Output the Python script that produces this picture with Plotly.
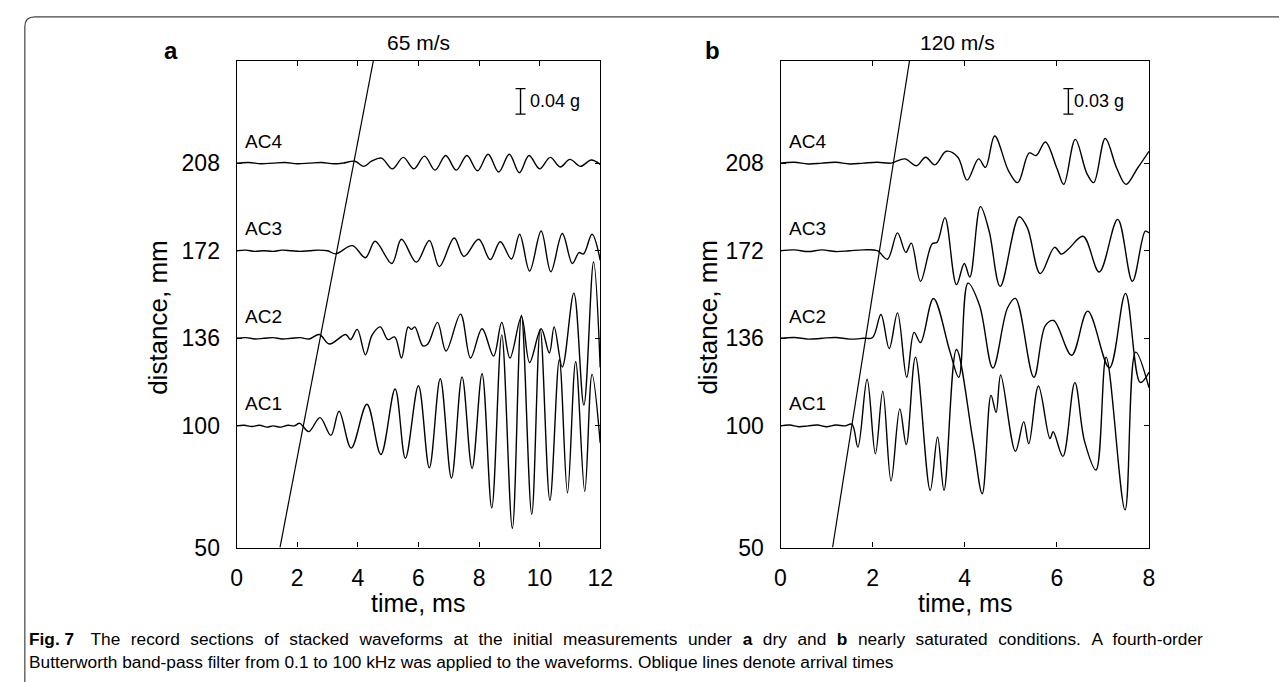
import plotly.graph_objects as go

W, H = 1287, 682

# ---------------- data ----------------
stations = ["AC1", "AC2", "AC3", "AC4"]
distances = [100, 136, 172, 208]          # mm
distance_ticks = [50, 100, 136, 172, 208]
time_ticks_a = [0, 2, 4, 6, 8, 10, 12]
time_ticks_b = [0, 2, 4, 6, 8]

# panel a (dry, 65 m/s) : time (ms) and acceleration (mg)
a_ac1_t = [0, 0.25, 0.5, 0.75, 1.0, 1.2, 1.45, 1.7, 1.9, 2.08, 2.38, 2.75, 3.11, 3.38, 3.78, 4.30, 4.76, 5.23, 5.57,
           6.00, 6.36, 6.72, 7.09, 7.44, 7.77, 8.10, 8.42, 8.75, 9.10, 9.40, 9.74, 10.02, 10.34, 10.65, 10.92,
           11.19, 11.49, 11.73, 12.0]
a_ac1_mg = [0, 1, -1, 1, -2, 0, -2, 1, 0, 4, -9, 13, -15, 23, -35, 34, -45, 58, -51,
            63, -66, 74, -82, 77, -67, 82, -129, 143, -161, 174, -139, 152, -117, 104, -105,
            101, -103, 81, -27]

a_ac2_t = [0, 0.3, 0.6, 0.9, 1.2, 1.5, 1.8, 2.1, 2.4, 2.73, 3.06, 3.60, 3.76, 3.98, 4.25, 4.47, 4.74, 4.99, 5.22,
           5.44, 5.66, 5.77, 5.88, 6.15, 6.31, 6.63, 6.91, 7.39, 7.72, 8.10, 8.48, 8.75, 9.02, 9.40, 9.67,
           10.05, 10.32, 10.48, 10.75, 11.13, 11.46, 11.78, 12.0]
a_ac2_mg = [0, 1, -1, 0, 1, -1, 0, 1, -1, 6, -9, 6, -2, 14, -26, 5, 18, -2, 2,
            -31, 18, 14, 18, -12, -9, 25, -20, 38, -31, 15, -28, 25, -31, 34, -38,
            15, -23, 18, -45, 71, -105, 120, -46]

a_ac3_t = [0, 0.3, 0.6, 0.9, 1.2, 1.5, 1.8, 2.1, 2.4, 2.7, 3.0, 3.27, 3.82, 4.25, 4.57, 5.12, 5.44, 5.93, 6.36,
           6.69, 7.18, 7.50, 7.99, 8.37, 8.70, 9.07, 9.34, 9.67, 10.05, 10.37, 10.75, 11.08, 11.30, 11.45,
           11.73, 12.0]
a_ac3_mg = [0, 1, -1, 0, -1, 1, 0, -1, 0, 1, 0, -5, 8, -11, 15, -20, 18, -18, 16,
            -25, 20, -9, 18, -14, 14, -13, 26, -32, 31, -33, 27, -20, -3, -5,
            26, -15]

a_ac4_t = [0, 0.4, 0.8, 1.2, 1.6, 2.0, 2.4, 2.8, 3.2, 3.5, 3.9, 4.2, 4.45, 4.78, 5.14, 5.5, 5.85, 6.2, 6.55,
           6.9, 7.25, 7.6, 7.95, 8.3, 8.65, 9.0, 9.33, 9.65, 10.0, 10.35, 10.68, 11.0, 11.35, 11.7, 12.0]
a_ac4_mg = [0, 1, -1, 0, 1, -1, 0, 1, -1, 0, 3, -5, 3, 8, -9, 9, -9, 11, -11,
            12, -11, 12, -12, 14, -14, 14, -15, 12, -9, 9, -6, 6, -5, 5, -2]

# panel b (nearly saturated, 120 m/s)
b_ac1_t = [0, 0.2, 0.4, 0.6, 0.8, 1.0, 1.2, 1.4, 1.55, 1.68, 1.88, 2.06, 2.22, 2.40, 2.59, 2.73, 2.93, 3.25,
           3.41, 3.55, 3.82, 4.18, 4.38, 4.57, 4.68, 4.78, 5.10, 5.28, 5.39, 5.60, 5.85, 5.92, 6.13, 6.39,
           6.60, 6.85, 7.07, 7.48, 7.71, 8.0]
b_ac1_mg = [0, 1, -1, 0, 1, -1, 1, 0, 2, -25, 55, -33, 41, -65, 20, -22, 81, -76,
            -13, -76, 90, -18, -80, 36, 16, 60, -30, 5, -21, 47, -15, -7, -36, 51,
            -18, -52, 81, -99, 87, 45]

b_ac2_t = [0, 0.3, 0.6, 0.9, 1.2, 1.5, 1.8, 2.0, 2.18, 2.36, 2.54, 2.74, 2.90, 3.04, 3.32, 3.68, 3.87, 4.07,
           4.32, 4.61, 4.93, 5.10, 5.50, 5.75, 5.93, 6.32, 6.67, 7.14, 7.49, 7.81, 8.0]
b_ac2_mg = [0, 1, -1, 0, 1, -1, 0, 1, 28, -12, 30, -46, 7, -5, 47, -16, -46, 65,
            39, -35, 36, 47, -46, 15, 21, -20, 32, -35, 53, -52, -40]

b_ac3_t = [0, 0.3, 0.6, 0.9, 1.2, 1.5, 1.8, 2.1, 2.32, 2.54, 2.72, 2.84, 3.04, 3.29, 3.40, 3.57, 3.82, 3.99,
           4.11, 4.34, 4.53, 4.77, 5.18, 5.36, 5.64, 5.95, 6.10, 6.25, 6.57, 6.92, 7.32, 7.64, 7.92, 8.0]
b_ac3_mg = [0, 1, -1, 1, -1, 0, 1, 0, -10, 21, -2, 9, -36, 8, 10, 39, -40, -15,
            -31, 52, 23, -42, 40, 27, -27, 4, -4, 2, 17, -25, 37, -36, 23, 21]

b_ac4_t = [0, 0.3, 0.6, 0.9, 1.2, 1.5, 1.8, 2.1, 2.4, 2.7, 2.95, 3.15, 3.35, 3.6, 3.85, 4.05, 4.3, 4.45, 4.65,
           4.95, 5.15, 5.4, 5.55, 5.75, 6.0, 6.15, 6.4, 6.65, 6.8, 7.05, 7.3, 7.5, 7.75, 8.0]
b_ac4_mg = [0, 1, -1, 0, 1, -1, 0, 1, 0, 5, -3, 7, -2, 14, 7, -20, 5, -5, 32,
            -9, -23, 12, 9, 25, -6, -25, 28, -12, -23, 29, -6, -25, -6, 14]

# arrival lines (time ms, distance mm)
a_arrival_t = [1.43, 4.51]
a_arrival_d = [50, 250]
b_arrival_t = [1.13, 2.80]
b_arrival_d = [50, 250]

scale_a_g = 0.04
scale_b_g = 0.03

caption_line1 = ("The record sections of stacked waveforms at the initial measurements under "
                 "<b>a</b> dry and <b>b</b> nearly saturated conditions. A fourth-order")
caption_line2 = ("Butterworth band-pass filter from 0.1 to 100 kHz was applied to the waveforms. "
                 "Oblique lines denote arrival times")

# ---------------- layout helpers ----------------
def px(x):
    return x / W

def py(y):
    return 1 - y / H

BAR_MM = 10.46   # drawn length of the scale bar in distance units
FONT = "Liberation Sans, Arial, sans-serif"

fig = go.Figure()

panels = [
    dict(xa="x", ya="y", sg=scale_a_g,
         data=[(a_ac1_t, a_ac1_mg), (a_ac2_t, a_ac2_mg), (a_ac3_t, a_ac3_mg), (a_ac4_t, a_ac4_mg)],
         arr=(a_arrival_t, a_arrival_d), bar_x=9.37, txt_x=9.60, lab_x=0.2),
    dict(xa="x2", ya="y2", sg=scale_b_g,
         data=[(b_ac1_t, b_ac1_mg), (b_ac2_t, b_ac2_mg), (b_ac3_t, b_ac3_mg), (b_ac4_t, b_ac4_mg)],
         arr=(b_arrival_t, b_arrival_d), bar_x=6.25, txt_x=6.33, lab_x=0.15),
]

for p in panels:
    k = BAR_MM / p["sg"] / 1000.0   # mm per mg
    for (t, mg), d, name in zip(p["data"], distances, stations):
        fig.add_trace(go.Scatter(
            x=t, y=[d + v * k for v in mg], mode="lines",
            line=dict(color="black", width=1.4, shape="spline", smoothing=1.0),
            xaxis=p["xa"], yaxis=p["ya"], showlegend=False, hoverinfo="skip"))
        fig.add_annotation(x=p["lab_x"], y=d, xref=p["xa"], yref=p["ya"], text=name,
                           xanchor="left", yanchor="middle", yshift=22, showarrow=False,
                           font=dict(family=FONT, size=19, color="black"))
    fig.add_trace(go.Scatter(
        x=p["arr"][0], y=p["arr"][1], mode="lines", line=dict(color="black", width=1.2),
        xaxis=p["xa"], yaxis=p["ya"], showlegend=False, hoverinfo="skip"))
    # scale bar
    fig.add_trace(go.Scatter(
        x=[p["bar_x"]], y=[233.4], mode="markers", marker=dict(color="rgba(0,0,0,0)", size=2),
        error_y=dict(type="data", array=[BAR_MM / 2], width=5, thickness=1.4, color="black"),
        xaxis=p["xa"], yaxis=p["ya"], showlegend=False, hoverinfo="skip"))
    fig.add_annotation(x=p["txt_x"], y=233.4, xref=p["xa"], yref=p["ya"],
                       text=f"{p['sg']:.2f} g", xanchor="left", yanchor="middle", showarrow=False,
                       font=dict(family=FONT, size=18, color="black"))

axis_common = dict(showline=True, linecolor="black", linewidth=1.2, mirror="ticks",
                   ticks="inside", ticklen=5, tickwidth=1.2, tickcolor="black",
                   showgrid=False, zeroline=False,
                   tickfont=dict(family=FONT, size=23, color="black"))

ydom = [py(550), py(54)]
fig.update_layout(
    width=W, height=H, margin=dict(l=0, r=0, t=0, b=0),
    paper_bgcolor="white", plot_bgcolor="white",
    xaxis=dict(domain=[px(226), px(595)], range=[0, 12], tickvals=time_ticks_a,
               anchor="y", ticklabelstandoff=10, **axis_common),
    yaxis=dict(domain=ydom, range=[50, 250], tickvals=distance_ticks,
               anchor="x", ticklabelstandoff=11, **axis_common),
    xaxis2=dict(domain=[px(778), px(1152)], range=[0, 8], tickvals=time_ticks_b,
                anchor="y2", ticklabelstandoff=10, **axis_common),
    yaxis2=dict(domain=ydom, range=[50, 250], tickvals=distance_ticks,
                anchor="x2", ticklabelstandoff=11, **axis_common),
)

def ann(x, y, text, size, **kw):
    fig.add_annotation(x=px(x), y=py(y), xref="paper", yref="paper", text=text,
                       showarrow=False, font=dict(family=kw.pop("family", FONT), size=size, color="black"),
                       **kw)

ann(410.5, 35, "65 m/s", 21, xanchor="center", yanchor="middle")
ann(958, 35, "120 m/s", 21, xanchor="center", yanchor="middle")
ann(159, 43, "<b>a</b>", 24, xanchor="center", yanchor="middle")
ann(709, 43, "<b>b</b>", 24, xanchor="center", yanchor="middle")
ann(146, 315, "distance, mm", 26, xanchor="center", yanchor="middle", textangle=-90)
ann(704, 315, "distance, mm", 26, xanchor="center", yanchor="middle", textangle=-90)
ann(410.5, 607, "time, ms", 25, xanchor="center", yanchor="middle")
ann(965, 607, "time, ms", 25, xanchor="center", yanchor="middle")

# caption: first line justified (word gaps widened), second line natural width
CAP = "Liberation Sans, Arial, sans-serif"
line1 = "<b>Fig. 7</b> \u2004\u2004" + caption_line1.replace(" ", " \u2004")
ann(13, 643, line1, 17.3, xanchor="left", yanchor="middle", family=CAP)
ann(13, 667, caption_line2, 17.3, xanchor="left", yanchor="middle", family=CAP)

# outer frame with rounded top-left corner
r = 10
path = (f"M {px(11)},{py(700)} L {px(11)},{py(9 + r)} "
        f"Q {px(11)},{py(9)} {px(11 + r)},{py(9)} L {px(1300)},{py(9)}")
fig.add_shape(type="path", path=path, xref="paper", yref="paper",
              line=dict(color="#444444", width=1.2))

fig.write_html("out.html")
